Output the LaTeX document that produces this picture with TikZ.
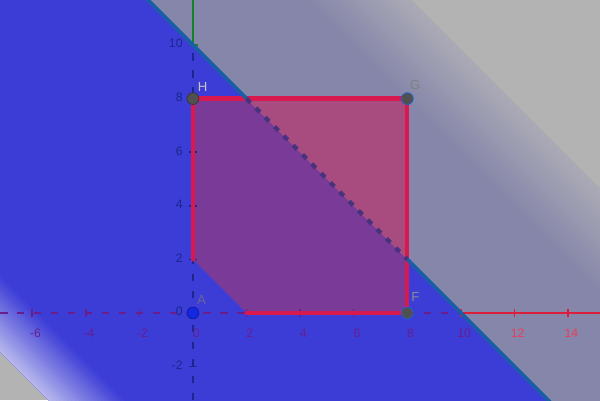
\documentclass[tikz,border=0pt]{standalone}
\usepackage{fontspec}
\setmainfont{Liberation Sans}
\usetikzlibrary{positioning}
\definecolor{ggbgray}{RGB}{179,179,179}
\definecolor{ggbblue}{RGB}{60,60,215}
\definecolor{ggbfade}{RGB}{182,182,236}
\definecolor{ggblav}{RGB}{134,134,170}
\definecolor{ggblavfade}{RGB}{170,170,182}
\definecolor{ggbpink}{RGB}{168,76,128}
\definecolor{ggbpurple}{RGB}{122,58,152}
\definecolor{ggbline}{RGB}{25,95,165}
\definecolor{ggbred}{RGB}{215,25,80}
\definecolor{ggbaxisx}{RGB}{105,30,140}
\definecolor{ggbaxisy}{RGB}{25,40,140}
\definecolor{ggbgreen}{RGB}{20,130,40}
\definecolor{ggbxred}{RGB}{220,30,60}
\definecolor{ggbxlabel}{RGB}{235,60,90}
\definecolor{ggbdash}{RGB}{70,50,125}
\definecolor{ggbpt}{RGB}{80,80,80}
\definecolor{ggbptblue}{RGB}{20,40,225}
\definecolor{ggbring}{RGB}{30,100,200}

\begin{document}
\begin{tikzpicture}[x=1cm, y=1cm,
  axlabel/.style={font=\fontsize{13}{15}\selectfont, inner sep=0pt},
  ptlabel/.style={font=\fontsize{14}{16}\selectfont, inner sep=0pt},
  ptdot/.style={circle, fill=ggbpt, draw=ggbring, line width=0.8pt,
    minimum size=0.44cm, inner sep=0pt},
  sqedge/.style={ggbred, line width=4.5pt, line cap=round, line join=round},
  xdash/.style={ggbaxisx, line width=2.6pt, dash pattern=on 8pt off 10pt},
  ydash/.style={ggbaxisy, line width=2.6pt, dash pattern=on 8pt off 10pt}]

\useasboundingbox (-7.2,-3.25) rectangle (15.19,11.68);
\clip (-7.2,-3.25) rectangle (15.19,11.68);
\fill[ggbgray] (-7.2,-3.25) rectangle (15.19,11.68);

% half-plane bands, turned frame u = (x+y)/sqrt 2
\begin{scope}[rotate=45]
  \fill[ggbblue] ({-8.65/sqrt(2)},-30) rectangle ({10/sqrt(2)},30);
  \fill[ggblav] ({10/sqrt(2)},-30) rectangle ({19.8/sqrt(2)},30);
  \foreach \i in {0,...,19}{
    \pgfmathtruncatemacro{\p}{5*\i}
    \fill[ggbblue!\p!ggbfade] ({(-8.65+0.14*\i)/sqrt(2)},-30)
      rectangle ({(-8.65+0.14*\i+0.16)/sqrt(2)},30);
    \fill[ggblav!\p!ggblavfade] ({(19.8-0.19*\i-0.21)/sqrt(2)},-30)
      rectangle ({(19.8-0.19*\i)/sqrt(2)},30);
  }
\end{scope}

\coordinate (E) at (0,0);
\coordinate (F) at (8,0);
\coordinate (G) at (8,8);
\coordinate (H) at (0,8);
\coordinate (P) at (2,0);
\coordinate (Q) at (0,2);
\coordinate (K1) at (2,8);
\coordinate (K2) at (8,2);
\coordinate (L1) at (-1.9,11.9);
\coordinate (L2) at (13.5,-3.5);

% square region
\fill[ggbpurple] (Q) -- (H) -- (K1) -- (K2) -- (F) -- (P) -- cycle;
\fill[ggbpink] (K1) -- (G) -- (K2) -- cycle;

% axes
\draw[xdash] (-7.2,0) -- (10,0);
\draw[ggbxred, line width=2pt] (10,0) -- (15.19,0);
\draw[ydash] (0,-3.25) -- (0,10);
\draw[ggbgreen, line width=2.4pt] (0,10) -- (0,11.68);
\foreach \x in {-6,-4,-2,2,4,6,8}
  \draw[ggbaxisx, line width=1.6pt] (\x,-0.14) -- (\x,0.14);
\foreach \x in {10,12,14}
  \draw[ggbxred, line width=1.8pt] (\x,-0.16) -- (\x,0.16);
\foreach \y in {-2,2,4,6,8}
  \draw[ggbaxisy, line width=1.6pt] (-0.15,\y) -- (0.15,\y);
\draw[ggbgreen, line width=2pt] (-0.1,10) -- (0.2,10);

\foreach \x in {-6,-4,-2,0,2,4,6,8,10}
  \node[axlabel, text=ggbaxisx] (xl\x) at (\x+0.12,-0.75) {\x};
\foreach \x in {12,14}
  \node[axlabel, text=ggbxlabel] (xl\x) at (\x+0.12,-0.75) {\x};
\foreach \y in {-2,0,2,4,6,8,10}
  \node[axlabel, text=ggbaxisy, anchor=east] (yl\y) at (-0.38,\y+0.05) {\y};

% edges of the square
\draw[sqedge] (Q) -- (H) -- (G) -- (F) -- (P);

% boundary x+y=10
\draw[ggbline, line width=4pt] (L1) -- (K1);
\draw[ggbline, line width=4pt] (K2) -- (L2);
\draw[ggbdash, line width=4.5pt, dash pattern=on 6pt off 8pt] (K1) -- (K2);

% points
\node[ptdot, draw=ggbpt!70!black] (ptH) at (H) {};
\node[ptdot] (ptG) at (G) {};
\node[ptdot] (ptF) at (F) {};
\node[ptdot, fill=ggbptblue, draw=ggbptblue!70!black] (ptA) at (E) {};

\node[ptlabel, text=gray!45] (labH) at (0.36,8.45) {H};
\node[ptlabel, text=gray] (labG) at (8.3,8.5) {G};
\node[ptlabel, text=gray!90] (labF) at (8.3,0.58) {F};
\node[ptlabel, text=gray!80!blue] (labA) at (0.32,0.5) {A};

\end{tikzpicture}
\end{document}
